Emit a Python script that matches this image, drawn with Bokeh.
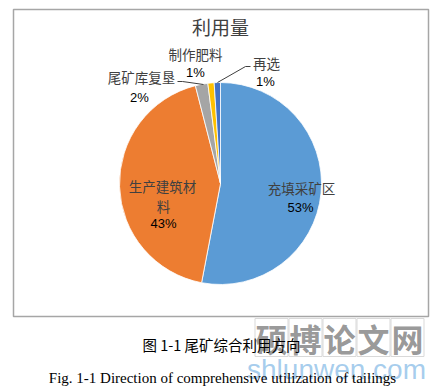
import math
from bokeh.plotting import figure
from bokeh.models import Range1d
from bokeh.core.properties import value
from bokeh.embed import file_html
from bokeh.resources import INLINE

# ---- data ----
categories = ["充填采矿区", "生产建筑材料", "尾矿库复垦", "制作肥料", "再选"]
shares = [53, 43, 2, 1, 1]
colors = ["#5B9BD5", "#ED7D31", "#A5A5A5", "#FFC000", "#4472C4"]
title_text = "利用量"
caption_cn = "图 1-1 尾矿综合利用方向"
caption_en = "Fig. 1-1 Direction of comprehensive utilization of tailings"

W, H = 441, 388
p = figure(width=W, height=H, output_backend="svg", toolbar_location=None,
           x_range=Range1d(0, W), y_range=Range1d(0, H),
           min_border=0, outline_line_color=None)
p.axis.visible = False
p.grid.visible = False
p.background_fill_color = "white"
p.border_fill_color = "white"

def X(px):
    return px

def Y(py):
    return H - py

CJK = value("Noto Sans CJK SC")

# chart frame
p.quad(left=[X(13)], right=[X(428)], top=[Y(9)], bottom=[Y(316)],
       fill_color=None, line_color="#a6a6a6", line_width=1.5)

# pie
cx, cy, r = X(220), Y(183), 101
total = float(sum(shares))
starts, ends = [], []
cum = 0.0
for v in shares:
    starts.append(math.pi / 2 - 2 * math.pi * cum / total)
    cum += v
    ends.append(math.pi / 2 - 2 * math.pi * cum / total)
p.wedge(x=[cx] * len(shares), y=[cy] * len(shares), radius=r,
        start_angle=starts, end_angle=ends, direction="clock",
        fill_color=colors, line_color="white", line_width=0.8)

# title
p.text(x=[X(220)], y=[Y(26)], text=[title_text], text_font=CJK,
       text_font_size="19px", text_align="center", text_baseline="middle",
       text_color="#404040")

pct = [f"{v}%" for v in shares]

# leader lines
p.line(x=[X(177), X(182), X(203)], y=[Y(81), Y(81), Y(84)], line_color="#404040", line_width=1)
p.line(x=[X(250), X(245), X(217)], y=[Y(66), Y(66), Y(82)], line_color="#404040", line_width=1)

# category labels (name lines, then percent)
name_x = [X(301), X(162), X(141), X(195), X(266)]
name_y = [Y(187), Y(185), Y(76), Y(53), Y(62)]
name_txt = [categories[0], categories[1][:5], categories[2], categories[3], categories[4]]
p.text(x=name_x, y=name_y, text=name_txt, text_font=CJK, text_font_size="13.5px",
       text_align="center", text_baseline="middle", text_color="#404040")
p.text(x=[X(163)], y=[Y(205)], text=[categories[1][5:]], text_font=CJK, text_font_size="13.5px",
       text_align="center", text_baseline="middle", text_color="#404040")
pct_x = [X(300), X(163), X(139), X(195), X(265)]
pct_y = [Y(207), Y(223), Y(97), Y(72), Y(81)]
p.text(x=pct_x, y=pct_y, text=pct, text_font=value("Liberation Sans"), text_font_size="13px",
       text_align="center", text_baseline="middle", text_color="black")

# watermark
wm_chars = list("硕博论文网")
wm_x = [X(271 + 34 * i) for i in range(5)]
p.rect(x=wm_x, y=[Y(337)] * 5, width=33, height=38, fill_color=None,
       line_color="#d9d9d9", line_width=1)
p.text(x=wm_x, y=[Y(337)] * 5, text=wm_chars, text_font=CJK, text_font_size="32px",
       text_font_style="bold", text_align="center", text_baseline="middle",
       text_color="#8c8c8c", text_alpha=0.9)

# captions
p.text(x=[X(221)], y=[Y(344)], text=[caption_cn], text_font=CJK, text_font_size="14.5px",
       text_align="center", text_baseline="middle", text_color="black")
p.text(x=[X(336)], y=[Y(369)], text=["shlunwen.com"], text_font=value("Liberation Sans"),
       text_font_size="28px", text_align="center", text_baseline="middle",
       text_color="#8fbfe8", text_alpha=0.8)
p.text(x=[X(222)], y=[Y(377)], text=[caption_en], text_font=value("Liberation Serif"),
       text_font_size="15px", text_align="center", text_baseline="middle", text_color="black")

open("out.html", "w").write(file_html(p, INLINE))
